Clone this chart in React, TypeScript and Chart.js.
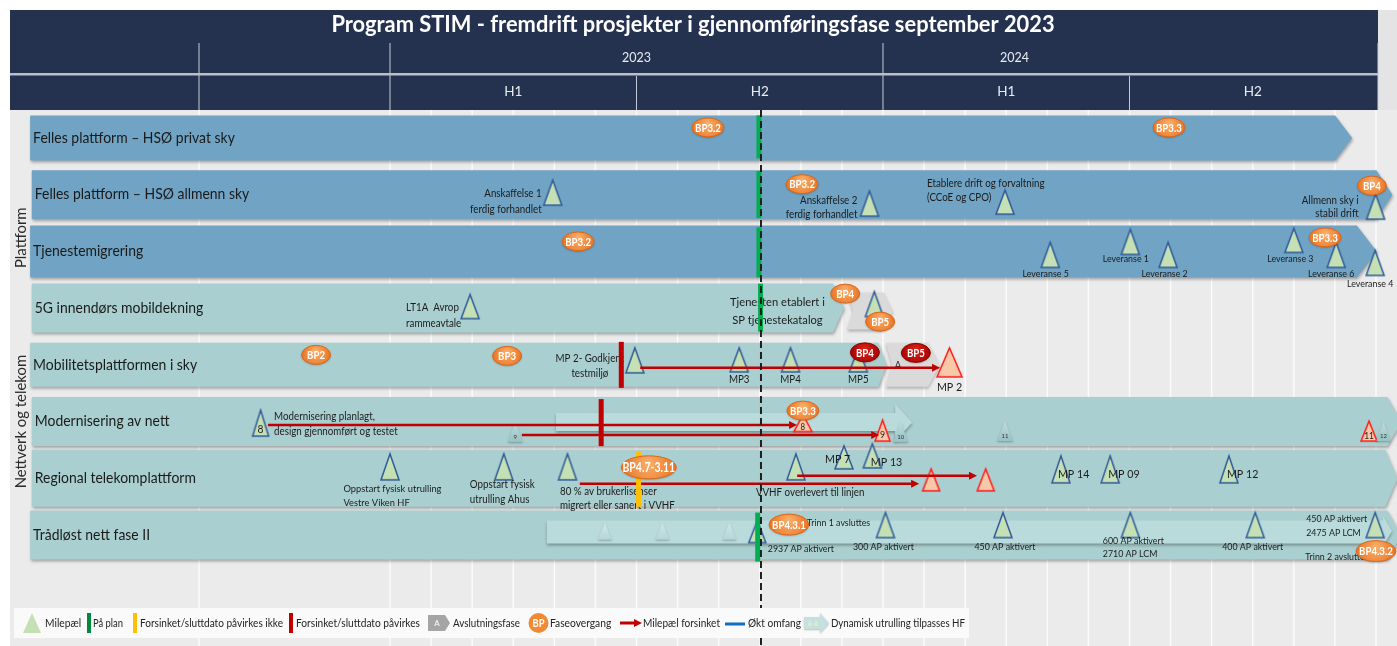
import { useEffect, useRef } from "react";
import { Chart, registerables } from "chart.js";

Chart.register(...registerables);

const W = 1397;
const H = 646;

/* ======================= DATA (months counted from Jan 2023 = 0) ======================= */
const TITLE = "Program STIM - fremdrift prosjekter i gjennomføringsfase september 2023";
const YEARS = ["2023", "2024"];
const HALVES = ["H1", "H2", "H1", "H2"];
const GROUPS = ["Plattform", "Nettverk og telekom"];

const PROJECTS = [
  "Felles plattform – HSØ privat sky",
  "Felles plattform – HSØ allmenn sky",
  "Tjenestemigrering",
  "5G innendørs mobildekning",
  "Mobilitetsplattformen i sky",
  "Modernisering av nett",
  "Regional telekomplattform",
  "Trådløst nett fase II",
];
const PROJECT_AREA = ["plattform", "plattform", "plattform", "nett", "nett", "nett", "nett", "nett"];
const PROJECT_START = [-8.76, -8.72, -8.76, -8.72, -8.76, -8.72, -8.72, -8.76];
const PROJECT_END = [23.42, 24.4, 24.02, 11.05, 12.08, 24.62, 24.52, 24.62];
const STATUS_DATE = 9.03;

const CLOSING_ROW = [3, 4];
const CLOSING_FROM = [11.13, 12.07];
const CLOSING_TO = [12.24, 13.39];
const CLOSING_TEXT = ["", "A"];

const ROLLOUT_ROW = [5, 7];
const ROLLOUT_FROM = [4.04, 3.82];
const ROLLOUT_TO = [12.71, 24.39];

const STATUS_ROW = [0, 1, 2, 3, 4, 5, 6, 7];
const STATUS_AT = [8.98, 8.98, 8.98, 9.02, 5.63, 5.14, 6.05, 8.95];
const STATUS_STATE = ["plan", "plan", "plan", "plan", "late", "late", "lateOk", "plan"];

const PHASE_ROW = [0, 0, 1, 1, 2, 2, 3, 3, 4, 4, 4, 4, 5, 6, 7, 7];
const PHASE_AT = [7.74, 18.96, 10.03, 23.9, 4.58, 22.76, 11.08, 11.93, -1.8, 2.85, 11.56, 12.8, 10.05, 6.3, 9.71, 24.0];
const PHASE_LABEL = ["BP3.2", "BP3.3", "BP3.2", "BP4", "BP3.2", "BP3.3", "BP4", "BP5", "BP2", "BP3", "BP4", "BP5", "BP3.3", "BP4.7-3.11", "BP4.3.1", "BP4.3.2"];
const PHASE_LATE = [false, false, false, false, false, false, false, false, false, false, true, true, false, false, false, false];

const DELAY_ROW = [4, 5, 5, 6, 6];
const DELAY_FROM = [6.09, -2.97, 3.21, 4.62, 9.91];
const DELAY_TO = [13.34, 9.86, 11.86, 12.83, 14.24];

type Kind = "ms" | "late" | "step" | "ghost";
const MILESTONES: { row: number; at: number; kind: Kind; label: string; tag?: string }[] = [
  { row: 1, at: 3.96, kind: "ms", label: "Anskaffelse 1\nferdig forhandlet" },
  { row: 1, at: 11.67, kind: "ms", label: "Anskaffelse 2\nferdig forhandlet" },
  { row: 1, at: 14.97, kind: "ms", label: "Etablere drift og forvaltning\n(CCoE og CPO)" },
  { row: 1, at: 23.99, kind: "ms", label: "Allmenn sky i\nstabil drift" },
  { row: 2, at: 16.07, kind: "ms", label: "Leveranse 5" },
  { row: 2, at: 18.02, kind: "ms", label: "Leveranse 1" },
  { row: 2, at: 18.94, kind: "ms", label: "Leveranse 2" },
  { row: 2, at: 22.0, kind: "ms", label: "Leveranse 3" },
  { row: 2, at: 23.03, kind: "ms", label: "Leveranse 6" },
  { row: 2, at: 23.98, kind: "ms", label: "Leveranse 4" },
  { row: 3, at: 1.95, kind: "ms", label: "LT1A  Avrop\nrammeavtale" },
  { row: 3, at: 11.79, kind: "ms", label: "" },
  { row: 4, at: 5.96, kind: "ms", label: "MP 2- Godkjent\ntestmiljø" },
  { row: 4, at: 8.5, kind: "ms", label: "MP3" },
  { row: 4, at: 9.75, kind: "ms", label: "MP4" },
  { row: 4, at: 11.4, kind: "ms", label: "MP5" },
  { row: 4, at: 13.62, kind: "late", label: "MP 2" },
  { row: 5, at: -3.15, kind: "ms", label: "Modernisering planlagt,\ndesign gjennomført og testet", tag: "8" },
  { row: 5, at: 3.05, kind: "step", label: "", tag: "9" },
  { row: 5, at: 10.05, kind: "late", label: "", tag: "8" },
  { row: 5, at: 11.99, kind: "late", label: "", tag: "9" },
  { row: 5, at: 12.43, kind: "step", label: "", tag: "10" },
  { row: 5, at: 14.97, kind: "step", label: "", tag: "11" },
  { row: 5, at: 23.83, kind: "late", label: "", tag: "11" },
  { row: 5, at: 24.18, kind: "step", label: "", tag: "12" },
  { row: 6, at: 0.0, kind: "ms", label: "Oppstart fysisk utrulling\nVestre Viken HF" },
  { row: 6, at: 2.77, kind: "ms", label: "Oppstart fysisk\nutrulling Ahus" },
  { row: 6, at: 4.32, kind: "ms", label: "80 % av brukerlisenser\nmigrert eller sanert i VVHF" },
  { row: 6, at: 9.88, kind: "ms", label: "VVHF overlevert til linjen" },
  { row: 6, at: 11.05, kind: "ms", label: "MP 7" },
  { row: 6, at: 11.74, kind: "ms", label: "MP 13" },
  { row: 6, at: 13.17, kind: "late", label: "" },
  { row: 6, at: 14.5, kind: "late", label: "" },
  { row: 6, at: 16.33, kind: "ms", label: "MP 14" },
  { row: 6, at: 17.53, kind: "ms", label: "MP 09" },
  { row: 6, at: 20.42, kind: "ms", label: "MP 12" },
  { row: 7, at: 5.23, kind: "ghost", label: "" },
  { row: 7, at: 6.63, kind: "ghost", label: "" },
  { row: 7, at: 8.26, kind: "ghost", label: "" },
  { row: 7, at: 8.94, kind: "ms", label: "2937 AP aktivert" },
  { row: 7, at: 12.06, kind: "ms", label: "300 AP aktivert" },
  { row: 7, at: 14.92, kind: "ms", label: "450 AP aktivert" },
  { row: 7, at: 18.02, kind: "ms", label: "600 AP aktivert\n2710 AP LCM" },
  { row: 7, at: 21.06, kind: "ms", label: "400 AP aktivert" },
  { row: 7, at: 23.98, kind: "ms", label: "450 AP aktivert\n2475 AP LCM" },
];

const NOTE_ROW = [3, 7, 7];
const NOTE_AT = [9.43, 10.15, 22.28];
const NOTE_TEXT = ["Tjenesten etablert i\nSP tjenestekatalog", "Trinn 1 avsluttes", "Trinn 2 avsluttes"];

const LEGEND_LABELS = [
  "Milepæl",
  "På plan",
  "Forsinket/sluttdato påvirkes ikke",
  "Forsinket/sluttdato påvirkes",
  "Avslutningsfase",
  "Faseovergang",
  "Milepæl forsinket",
  "Økt omfang",
  "Dynamisk utrulling tilpasses HF",
];

/* ======================= LAYOUT / STYLE ======================= */
const MONTH0_PX = 390;
const MONTH_PX = 41.083;
const ROW0_PX = 137.9;
const ROW_PX = 56.74;
const X_MIN = -MONTH0_PX / MONTH_PX;
const X_MAX = (W - MONTH0_PX) / MONTH_PX;
const Y_MIN = -ROW0_PX / ROW_PX;
const Y_MAX = (H - ROW0_PX) / ROW_PX;

const FRAME_L = 10;
const FRAME_T = 10;
const YEAR_T = 43;
const SEP_Y = 73;
const HALF_T = 76;
const HEAD_B = 110;
const COL2_X = 199;
const YEAR_LABEL_AT = [6, 15.2];
const GROUP_LABEL_ROW = [1.76, 5.0];

const BAR_HALF = [22.5, 24.5, 26, 24.5, 22, 24.5, 28.5, 24.5];
const BAR_TIP = [17, 16, 20, 11, 8, 14, 12, 14];
const CLOSING_BOX = [
  [-15.5, 21.5, 6, 9],
  [-22, 22, 6, 12],
];
const ROLLOUT_BOX = [
  [-8.5, 9.5, -17.5, 19.5, 17],
  [-14.5, 8.5, -19, 11, 9],
];
const STATUS_EXT = [
  [-22.5, 20.5], [-23.5, 23.5], [-24, 26], [-24.5, 23.5], [-23, 23], [-22.5, 24.5], [-26.5, 28.5], [-22.5, 26.5],
];
const PHASE_DY = [-10.5, -10.5, -10.5, -9, -10, -14, -14.5, 13.5, -10, -9, -12.5, -12, -11, -11, -10.5, 16];
const PHASE_SIZE = [0, 0, 0, 0, 0, 0, 0, 0, 0, 0, 0, 0, 0, 2, 1, 1];
const DELAY_DY = [3, 3.5, 13.5, 5.5, -2.5];
const NOTE_LAYOUT = [
  { dy: -5.5, align: "center", fs: 12, lh: 18 },
  { dy: -12.5, align: "left", fs: 9.5, lh: 12 },
  { dy: 22, align: "left", fs: 9.5, lh: 12 },
];

type ML = { a: number; b: number; w: number; dx: number; dy: number; al: string; fs: number; lh: number };
const L = (a: number, b: number, w: number, dx = 0, dy = 0, al = "left", fs = 10.5, lh = 14): ML => ({ a, b, w, dx, dy, al, fs, lh });
const MS_LAYOUT: ML[] = [
  L(-14.5, 10.5, 18, -11, -1.5, "right", 10.5, 16),
  L(-3.5, 21.5, 18, -12, 5.5, "right", 10.5, 14),
  L(-4.5, 19.5, 18, -78, -11.5, "left", 10.5, 14),
  L(-0.5, 24.5, 18, -17, 5.5, "right", 10.5, 13),
  L(-9, 16, 18, -4.5, 23, "center", 9.5),
  L(-22, 3, 18, -4.5, 8, "center", 9.5),
  L(-9, 16, 18, -3.5, 23, "center", 9.5),
  L(-23, 1, 18, -3.5, 8, "center", 9.5),
  L(-9, 16, 18, -5, 23, "center", 9.5),
  L(-1, 24, 18, -5, 33, "center", 9.5),
  L(-13.5, 10.5, 18, -64, -1, "left", 10.5, 16),
  L(-16.5, 8.5, 18),
  L(-17, 8, 18, -45, -6, "center", 10.5, 15),
  L(-17, 7, 18, 0, 15, "center", 10.5),
  L(-17, 7, 18, 0, 15, "center", 10.5),
  L(-17, 7, 18, 0, 15, "center", 10.5),
  L(-17, 12, 25, 0, 22, "center", 11.5),
  L(-11.5, 14.5, 16, 13.5, -4.5, "left", 10.5, 15),
  L(-0.5, 20.5, 15),
  L(-7, 10, 18),
  L(-1.5, 19.5, 15),
  L(-0.5, 20.5, 15),
  L(-0.5, 19.5, 16),
  L(-0.5, 19.5, 16),
  L(-0.5, 19.5, 14),
  L(-24.5, 1.5, 18, -46.5, 10.5, "left", 10, 14),
  L(-24.5, 1.5, 18, -34, 6.5, "left", 10.5, 15),
  L(-24.5, 1.5, 18, -7.5, 13.5, "left", 10.5, 13.5),
  L(-24.5, 1.5, 18, -40, 14.5, "left", 10.5),
  L(-32.5, -9.5, 18, -19, -19.5, "left", 11.5),
  L(-34.5, -10.5, 18, -1.5, -16.5, "left", 11.5),
  L(-9.5, 12.5, 17),
  L(-9.5, 12.5, 17),
  L(-22.5, 4.5, 18, -3, -4.5, "left", 11.5),
  L(-22.5, 4.5, 18, -2, -4.5, "left", 11.5),
  L(-22.5, 4.5, 18, -2, -4.5, "left", 11.5),
  L(-12.5, 4.5, 14),
  L(-12.5, 4.5, 14),
  L(-12.5, 4.5, 14),
  L(-14.5, 7.5, 17, 10.5, 13.5, "left", 9.5),
  L(-22.5, 2.5, 18, -2, 11.5, "center", 9.5),
  L(-22.5, 2.5, 18, 2, 11.5, "center", 9.5),
  L(-22.5, 2.5, 18, -27.5, 5.5, "left", 9.5, 13),
  L(-22.5, 2.5, 18, -2.5, 11.5, "center", 9.5),
  L(-22.5, 2.5, 18, -69, -16.5, "left", 9.5, 14),
];

const LEGEND_BOX = { x: 14, y: 608, w: 955, h: 30 };
const LEGEND_TEXT_X = [45, 93, 140, 296, 453, 550, 643, 748, 831];
const LEGEND_TEXT_W = [37, 30, 143, 124, 67, 63, 77, 53, 134];

const NAVY = "#24324f";
const C_PLAT = "rgb(112,163,196)";
const C_NET = "rgb(170,207,208)";
const C_ROLLOUT = "rgb(186,219,220)";
const RED = "#c00000";
const GREEN = "#00b050";
const YELLOW = "#ffc000";
const MS_FILL = "#c5e0b4";
const MS_STROKE = "#2f5a98";
const FONT = 'Lato, "Noto Sans", sans-serif';
const SQ = 0.93;

/* ======================= helpers ======================= */
function drawText(ctx: CanvasRenderingContext2D, s: string, x: number, y: number, size: number, o: any = {}) {
  ctx.font = `${o.bold ? "bold " : ""}${size}px ${FONT}`;
  ctx.textAlign = o.align || "left";
  ctx.textBaseline = "middle";
  ctx.fillStyle = o.color || "#1b1b1b";
  const lh = o.lh || size * 1.3;
  s.split("\n").forEach((ln, i) => {
    let w = ctx.measureText(ln).width * (o.sq ?? SQ);
    if (o.maxW) w = Math.min(w, o.maxW);
    ctx.fillText(ln, x, y + i * lh, Math.max(1, w));
  });
}

function chevron(ctx: CanvasRenderingContext2D, x0: number, yT: number, x1: number, yB: number, tip: number, notch = 0) {
  const mid = (yT + yB) / 2;
  ctx.beginPath();
  ctx.moveTo(x0, yT);
  ctx.lineTo(x1 - tip, yT);
  ctx.lineTo(x1, mid);
  ctx.lineTo(x1 - tip, yB);
  ctx.lineTo(x0, yB);
  if (notch) ctx.lineTo(x0 + notch, mid);
  ctx.closePath();
}

function triPath(ctx: CanvasRenderingContext2D, cx: number, apex: number, w: number, h: number) {
  ctx.beginPath();
  ctx.moveTo(cx, apex);
  ctx.lineTo(cx + w / 2, apex + h);
  ctx.lineTo(cx - w / 2, apex + h);
  ctx.closePath();
}

function triCanvas(w: number, h: number, kind: Kind) {
  const pad = 4;
  const c = document.createElement("canvas");
  c.width = Math.ceil(w) + pad * 2;
  c.height = h + pad * 2;
  const g = c.getContext("2d")!;
  const cx = c.width / 2;
  if (kind === "step" || kind === "ghost") {
    g.shadowColor = "rgba(0,0,0,0.28)";
    g.shadowBlur = 2;
    g.shadowOffsetY = 1;
    triPath(g, cx, pad, w, h);
    const gr = g.createLinearGradient(0, pad, 0, pad + h);
    if (kind === "step") {
      gr.addColorStop(0, "#c3dede");
      gr.addColorStop(1, "#98c2c3");
    } else {
      gr.addColorStop(0, "#d3e9e9");
      gr.addColorStop(1, "#b4d6d7");
    }
    g.fillStyle = gr;
    g.fill();
  } else {
    triPath(g, cx, pad, w, h);
    g.fillStyle = kind === "late" ? "#f8c9a8" : MS_FILL;
    g.fill();
    g.lineWidth = 1.5;
    g.lineJoin = "miter";
    g.strokeStyle = kind === "late" ? "#ff1a1a" : MS_STROKE;
    g.stroke();
  }
  return c;
}

function drawBadge(ctx: CanvasRenderingContext2D, x: number, y: number, label: string, late: boolean, size: number) {
  const fs = size === 2 ? 12.5 : 11.5;
  ctx.font = `bold ${fs}px ${FONT}`;
  const tw = ctx.measureText(label).width * 0.84;
  const rx = Math.max(14.5, tw / 2 + (size === 2 ? 1 : 3));
  const ry = size === 2 ? 11.5 : size === 1 ? 10.5 : 9.5;
  ctx.save();
  ctx.shadowColor = "rgba(0,0,0,0.25)";
  ctx.shadowBlur = 2;
  ctx.shadowOffsetY = 1;
  const g = ctx.createRadialGradient(x, y - ry * 0.4, 1, x, y, rx * 1.05);
  if (late) {
    g.addColorStop(0, "#d8231b");
    g.addColorStop(1, "#a30000");
  } else {
    g.addColorStop(0, "#f9ae6a");
    g.addColorStop(1, "#e8701e");
  }
  ctx.fillStyle = g;
  ctx.beginPath();
  ctx.ellipse(x, y, rx, ry, 0, 0, Math.PI * 2);
  ctx.fill();
  ctx.restore();
  ctx.save();
  ctx.strokeStyle = late ? "#8c0000" : "#d9681c";
  ctx.lineWidth = 1;
  ctx.beginPath();
  ctx.ellipse(x, y, rx, ry, 0, 0, Math.PI * 2);
  ctx.stroke();
  ctx.restore();
  drawText(ctx, label, x, y + 0.5, fs, { align: "center", bold: true, color: "#ffffff", sq: 0.84 });
}

function arrowHead(ctx: CanvasRenderingContext2D, x: number, y: number, color: string) {
  ctx.beginPath();
  ctx.moveTo(x + 2, y);
  ctx.lineTo(x - 6, y - 4);
  ctx.lineTo(x - 6, y + 4);
  ctx.closePath();
  ctx.fillStyle = color;
  ctx.fill();
}

/* ======================= plugin ======================= */
const roadmapPlugin = {
  id: "roadmap",
  beforeDatasetsDraw(chart: any) {
    const ctx: CanvasRenderingContext2D = chart.ctx;
    const X = (m: number) => chart.scales.x.getPixelForValue(m);
    const Y = (r: number) => chart.scales.y.getPixelForValue(r);
    const hr = X(24) + 2;
    ctx.save();
    ctx.fillStyle = "#ffffff";
    ctx.fillRect(0, 0, W, H);
    ctx.fillStyle = "#ebebeb";
    ctx.fillRect(FRAME_L, FRAME_T, W - FRAME_L, H - FRAME_T);
    // header
    ctx.fillStyle = NAVY;
    ctx.fillRect(FRAME_L, FRAME_T, hr - FRAME_L, HEAD_B - FRAME_T);
    ctx.fillStyle = "#e4e4e4";
    ctx.fillRect(hr, FRAME_T, W - hr, HEAD_B - FRAME_T);
    // body grid
    ctx.strokeStyle = "#fbfbfb";
    ctx.lineWidth = 1.5;
    const gx = [COL2_X];
    for (let k = 0; k <= 24; k++) gx.push(X(k));
    gx.forEach((x) => {
      ctx.beginPath();
      ctx.moveTo(x, HEAD_B);
      ctx.lineTo(x, H);
      ctx.stroke();
    });
    // header lines
    ctx.strokeStyle = "#c6ccd6";
    ctx.lineWidth = 1;
    [COL2_X, X(0), X(12), hr].forEach((x) => {
      ctx.beginPath();
      ctx.moveTo(x, YEAR_T);
      ctx.lineTo(x, HEAD_B);
      ctx.stroke();
    });
    [X(6), X(18)].forEach((x) => {
      ctx.beginPath();
      ctx.moveTo(x, HALF_T);
      ctx.lineTo(x, HEAD_B);
      ctx.stroke();
    });
    ctx.fillStyle = "#b9bfcb";
    ctx.fillRect(FRAME_L, SEP_Y, hr - FRAME_L, 2.5);
    drawText(ctx, TITLE, 693, 25, 23, { bold: true, color: "#ffffff", align: "center", sq: 0.95, maxW: 741 });
    YEARS.forEach((y, i) => drawText(ctx, y, X(YEAR_LABEL_AT[i]), 58, 12.5, { color: "#e8ebf0", align: "center", sq: 1 }));
    HALVES.forEach((h, i) => drawText(ctx, h, X(3 + 6 * i), 92, 13.5, { color: "#e8ebf0", align: "center", sq: 1 }));

    // project bars
    PROJECTS.forEach((_, r) => {
      const yc = Y(r);
      ctx.save();
      ctx.shadowColor = "rgba(0,0,0,0.3)";
      ctx.shadowBlur = 3;
      ctx.shadowOffsetY = 2;
      ctx.shadowOffsetX = 1;
      chevron(ctx, X(PROJECT_START[r]), yc - BAR_HALF[r], X(PROJECT_END[r]), yc + BAR_HALF[r], BAR_TIP[r]);
      ctx.fillStyle = PROJECT_AREA[r] === "plattform" ? C_PLAT : C_NET;
      ctx.fill();
      ctx.restore();
    });
    // closing phases
    CLOSING_ROW.forEach((r, i) => {
      const yc = Y(r);
      const [t, b, notch, tip] = CLOSING_BOX[i];
      ctx.save();
      ctx.shadowColor = "rgba(0,0,0,0.25)";
      ctx.shadowBlur = 3;
      ctx.shadowOffsetY = 2;
      chevron(ctx, X(CLOSING_FROM[i]), yc + t, X(CLOSING_TO[i]), yc + b, tip, notch);
      ctx.fillStyle = "#dadada";
      ctx.fill();
      ctx.restore();
      if (CLOSING_TEXT[i]) drawText(ctx, CLOSING_TEXT[i], X(CLOSING_FROM[i]) + 12, yc + 1, 11, { color: "#333", align: "center" });
    });
    // dynamic rollout arrows
    ROLLOUT_ROW.forEach((r, i) => {
      const yc = Y(r);
      const [sT, sB, hT, hB, hl] = ROLLOUT_BOX[i];
      const x0 = X(ROLLOUT_FROM[i]);
      const x1 = X(ROLLOUT_TO[i]);
      ctx.save();
      ctx.shadowColor = "rgba(0,0,0,0.3)";
      ctx.shadowBlur = 3;
      ctx.shadowOffsetY = 2;
      ctx.beginPath();
      ctx.moveTo(x0, yc + sT);
      ctx.lineTo(x1 - hl, yc + sT);
      ctx.lineTo(x1 - hl, yc + hT);
      ctx.lineTo(x1, yc + (hT + hB) / 2);
      ctx.lineTo(x1 - hl, yc + hB);
      ctx.lineTo(x1 - hl, yc + sB);
      ctx.lineTo(x0, yc + sB);
      ctx.closePath();
      ctx.fillStyle = C_ROLLOUT;
      ctx.fill();
      ctx.restore();
    });
    // project names
    PROJECTS.forEach((p, r) => drawText(ctx, p, X(PROJECT_START[r]) + 3, Y(r), 15, { color: "#1a1a1a" }));
    // group labels
    GROUPS.forEach((g, i) => {
      ctx.save();
      ctx.translate(21, Y(GROUP_LABEL_ROW[i]));
      ctx.rotate(-Math.PI / 2);
      drawText(ctx, g, 0, 0, 16, { color: "#2a2a2a", align: "center" });
      ctx.restore();
    });
    ctx.restore();
  },
  afterDatasetsDraw(chart: any) {
    const ctx: CanvasRenderingContext2D = chart.ctx;
    const X = (m: number) => chart.scales.x.getPixelForValue(m);
    const Y = (r: number) => chart.scales.y.getPixelForValue(r);
    ctx.save();
    // delay arrow heads
    DELAY_ROW.forEach((r, i) => arrowHead(ctx, X(DELAY_TO[i]), Y(r) + DELAY_DY[i], RED));
    // milestone labels and tags
    MILESTONES.forEach((m, i) => {
      const l = MS_LAYOUT[i];
      const x = X(m.at);
      const yc = Y(m.row);
      if (m.label) drawText(ctx, m.label, x + l.dx, yc + l.dy, l.fs, { align: l.al, lh: l.lh });
      if (m.tag) {
        const h = l.b - l.a;
        if (m.kind === "step") drawText(ctx, m.tag, x, yc + l.b - 5, 6.5, { align: "center", color: "#333" });
        else drawText(ctx, m.tag, x, yc + l.b - h * 0.27, Math.max(8.5, Math.min(11, h * 0.45)), { align: "center", color: "#222" });
      }
    });
    // notes
    NOTE_ROW.forEach((r, i) => {
      const l = NOTE_LAYOUT[i];
      drawText(ctx, NOTE_TEXT[i], X(NOTE_AT[i]), Y(r) + l.dy, l.fs, { align: l.align, lh: l.lh });
    });
    // status bars
    STATUS_ROW.forEach((r, i) => {
      const [t, b] = STATUS_EXT[i];
      ctx.fillStyle = STATUS_STATE[i] === "plan" ? GREEN : STATUS_STATE[i] === "late" ? RED : YELLOW;
      ctx.fillRect(X(STATUS_AT[i]) - 2.5, Y(r) + t, 5, b - t);
    });
    // status date line
    ctx.save();
    ctx.strokeStyle = "#1f1f1f";
    ctx.lineWidth = 2;
    ctx.setLineDash([7, 4]);
    ctx.beginPath();
    ctx.moveTo(X(STATUS_DATE), HEAD_B);
    ctx.lineTo(X(STATUS_DATE), H);
    ctx.stroke();
    ctx.restore();
    // phase badges
    PHASE_ROW.forEach((r, i) => drawBadge(ctx, X(PHASE_AT[i]), Y(r) + PHASE_DY[i], PHASE_LABEL[i], PHASE_LATE[i], PHASE_SIZE[i]));
    ctx.restore();
  },
  afterDraw(chart: any) {
    const ctx: CanvasRenderingContext2D = chart.ctx;
    const y = LEGEND_BOX.y + LEGEND_BOX.h / 2;
    ctx.save();
    ctx.fillStyle = "#fafafa";
    ctx.fillRect(LEGEND_BOX.x, LEGEND_BOX.y, LEGEND_BOX.w, LEGEND_BOX.h);
    // icons
    triPath(ctx, 32, y - 10, 18, 20);
    ctx.fillStyle = MS_FILL;
    ctx.fill();
    ctx.fillStyle = "#008a3e";
    ctx.fillRect(87, y - 10, 4, 20);
    ctx.fillStyle = YELLOW;
    ctx.fillRect(133, y - 10, 4, 20);
    ctx.fillStyle = RED;
    ctx.fillRect(289, y - 10, 4, 20);
    chevron(ctx, 428, y - 8, 450, y + 8, 5);
    ctx.fillStyle = "#a5a5a5";
    ctx.fill();
    drawText(ctx, "A", 437, y + 0.5, 8, { color: "#fff", align: "center", sq: 1 });
    ctx.beginPath();
    ctx.arc(538.5, y, 10, 0, Math.PI * 2);
    ctx.fillStyle = "#f08a35";
    ctx.fill();
    drawText(ctx, "BP", 538.5, y + 0.5, 11, { color: "#fff", align: "center", bold: true, sq: 0.85 });
    ctx.strokeStyle = RED;
    ctx.lineWidth = 3;
    ctx.beginPath();
    ctx.moveTo(620, y);
    ctx.lineTo(636, y);
    ctx.stroke();
    arrowHead(ctx, 640, y, RED);
    ctx.strokeStyle = "#0f6fc6";
    ctx.beginPath();
    ctx.moveTo(725, y + 1);
    ctx.lineTo(745, y + 1);
    ctx.stroke();
    ctx.save();
    ctx.shadowColor = "rgba(0,0,0,0.25)";
    ctx.shadowBlur = 2;
    ctx.shadowOffsetY = 1;
    ctx.beginPath();
    ctx.moveTo(804, y - 6);
    ctx.lineTo(820, y - 6);
    ctx.lineTo(820, y - 10);
    ctx.lineTo(829, y);
    ctx.lineTo(820, y + 10);
    ctx.lineTo(820, y + 6);
    ctx.lineTo(804, y + 6);
    ctx.closePath();
    ctx.fillStyle = "#c6e0e0";
    ctx.fill();
    ctx.restore();
    triPath(ctx, 810, y - 4, 5, 7);
    ctx.fillStyle = "#d7ecc9";
    ctx.fill();
    triPath(ctx, 816, y - 4, 5, 7);
    ctx.fill();
    LEGEND_LABELS.forEach((s, i) => drawText(ctx, s, LEGEND_TEXT_X[i], y, 11, { color: "#222", maxW: LEGEND_TEXT_W[i] }));
    ctx.restore();
  },
};

/* ======================= component ======================= */
export default function App() {
  const ref = useRef<HTMLCanvasElement>(null);
  useEffect(() => {
    const canvas = ref.current!;
    const kinds: Kind[] = ["ghost", "step", "ms", "late"];
    const triSets = kinds.map((k) => {
      const idx = MILESTONES.map((_, i) => i).filter((i) => MILESTONES[i].kind === k);
      return {
        type: "scatter",
        data: idx.map((i) => ({ x: MILESTONES[i].at, y: MILESTONES[i].row + (MS_LAYOUT[i].a + MS_LAYOUT[i].b) / 2 / ROW_PX })),
        pointStyle: idx.map((i) => triCanvas(MS_LAYOUT[i].w, MS_LAYOUT[i].b - MS_LAYOUT[i].a, k)),
        pointRadius: 8,
        pointHoverRadius: 8,
        order: 1,
        clip: false,
      };
    });
    const delaySets = DELAY_ROW.map((r, i) => ({
      type: "line",
      data: [
        { x: DELAY_FROM[i], y: r + DELAY_DY[i] / ROW_PX },
        { x: DELAY_TO[i] - 0.1, y: r + DELAY_DY[i] / ROW_PX },
      ],
      borderColor: RED,
      borderWidth: 2.5,
      pointRadius: 0,
      fill: false,
      tension: 0,
      order: 0,
      clip: false,
    }));
    const chart = new Chart(canvas, {
      type: "scatter",
      data: { datasets: [...delaySets, ...triSets] as any },
      options: {
        responsive: false,
        animation: false,
        devicePixelRatio: 1,
        events: [],
        layout: { padding: 0, autoPadding: false },
        scales: {
          x: { type: "linear", min: X_MIN, max: X_MAX, display: false },
          y: { type: "linear", min: Y_MIN, max: Y_MAX, reverse: true, display: false },
        },
        plugins: { legend: { display: false }, tooltip: { enabled: false } },
      } as any,
      plugins: [roadmapPlugin as any],
    });
    return () => chart.destroy();
  }, []);
  return (
    <div style={{ position: "absolute", left: 0, top: 0, width: W, height: H }}>
      <canvas ref={ref} width={W} height={H} style={{ display: "block", width: W, height: H }} />
    </div>
  );
}
